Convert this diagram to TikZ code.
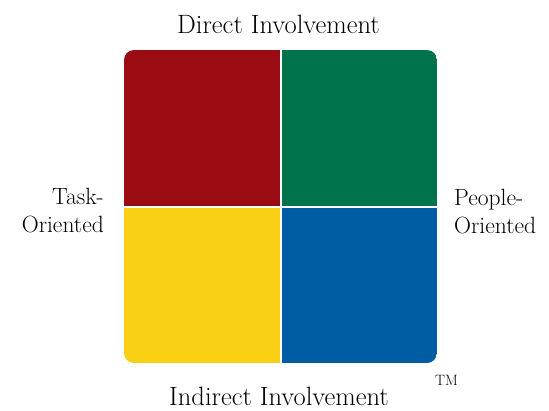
\documentclass[tikz,border=0pt]{standalone}
\definecolor{qred}{RGB}{155,12,18}
\definecolor{qgreen}{RGB}{0,115,77}
\definecolor{qyellow}{RGB}{250,208,20}
\definecolor{qblue}{RGB}{0,93,163}
\begin{document}
\begin{tikzpicture}[x=1pt,y=-1pt,
  lbl/.style={inner sep=0pt,font=\fontsize{26.5}{28}\selectfont},
  side/.style={inner sep=0pt,font=\fontsize{23.5}{28}\selectfont}]
\useasboundingbox[fill=white] (0,0) rectangle (549,410);
\begin{scope}
  \clip[rounded corners=10pt] (124,50) rectangle (437,363);
  \fill[qred] (124,50) rectangle (281,207);
  \fill[qgreen] (281,50) rectangle (437,207);
  \fill[qyellow] (124,207) rectangle (281,363);
  \fill[qblue] (281,207) rectangle (437,363);
\end{scope}
\coordinate (top) at (281,50);
\coordinate (bot) at (281,363);
\coordinate (lft) at (124,207);
\coordinate (rgt) at (437,207);
\draw[white,line width=2pt] (top) -- (bot);
\draw[white,line width=2pt] (lft) -- (rgt);
\node[lbl,anchor=base] (direct) at (278.5,33) {Direct Involvement};
\node[lbl,anchor=base] (indirect) at (279,405.5) {Indirect Involvement};
\node[side,anchor=east,align=right] (task) at (104,211) {Task-\\Oriented};
\node[side,anchor=west,align=left] (people) at (454,212) {People-\\Oriented};
\node[inner sep=0pt,anchor=base,font=\fontsize{15}{18}\selectfont] (tm) at (446.5,385) {TM};
\end{tikzpicture}
\end{document}
